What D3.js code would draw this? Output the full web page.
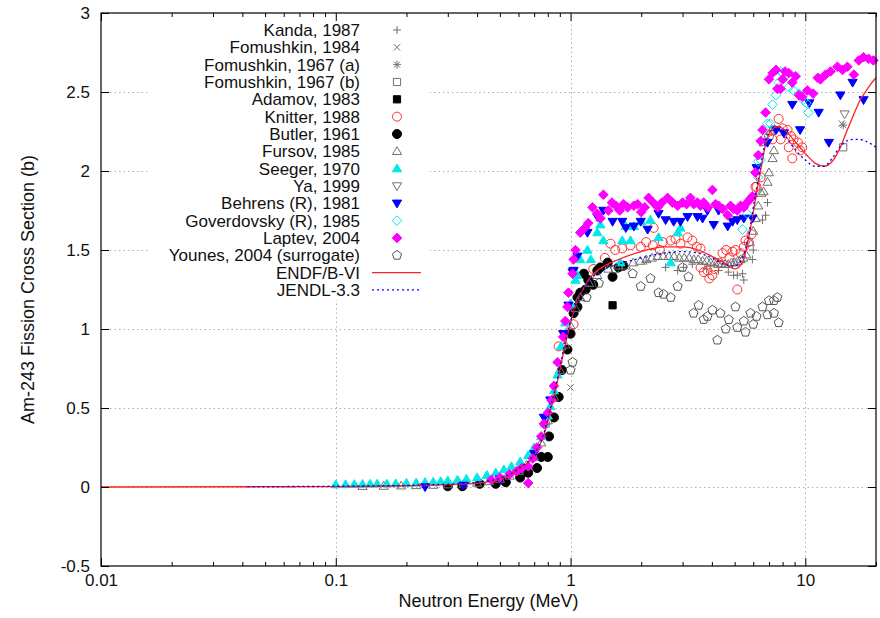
<!DOCTYPE html>
<html>
<head>
<meta charset="utf-8">
<script src="https://cdn.jsdelivr.net/npm/d3@7"></script>
<style>
  body { margin: 0; background: #fff; }
  svg text { font-family: "Liberation Sans", Arial, Helvetica, sans-serif; fill: #111; }
</style>
</head>
<body>
<div id="chart"></div>
<script>
// Am-243 fission cross section data, [energy (MeV), sigma (b)]
var kanda1987 = [[2.1,1.43],[2.54,1.39],[2.86,1.37],[3.03,1.39],[3.3,1.41],[3.8,1.38],[4.27,1.37],[4.7,1.36],
  [4.95,1.34],[5.13,1.34],[5.4,1.35],[5.47,1.31],[5.95,1.44],[6.0,1.5],[6.57,1.69],[6.77,1.72],[6.9,1.80]];
var fomushkin1984 = [[1.0,0.63],[14.3,2.30]];
var fomushkin1967a = [[14.5,2.29]];
var fomushkin1967b = [[14.5,2.15]];
var adamov1983 = [[1.51,1.15]];
var knitter1988 = [[0.62,0.12],[0.78,0.40],[0.88,0.57],[0.89,0.89],[1.03,1.03],[1.25,1.38],[1.4,1.45],[1.48,1.54],
  [1.55,1.50],[1.66,1.51],[1.8,1.53],[1.99,1.52],[2.1,1.55],[2.26,1.64],[2.24,1.53],[2.4,1.50],[2.47,1.55],
  [2.67,1.56],[2.8,1.57],[2.94,1.54],[3.15,1.58],[3.3,1.56],[3.45,1.52],[3.58,1.51],[3.58,1.39],[3.7,1.36],
  [3.83,1.37],[3.9,1.32],[4.02,1.34],[4.1,1.38],[4.3,1.42],[4.44,1.48],[4.6,1.50],[4.75,1.45],[4.9,1.49],
  [5.04,1.50],[5.13,1.25],[5.3,1.48],[5.47,1.52],[5.56,1.56],[5.74,1.55],[5.9,1.60],[6.13,1.90],[6.2,1.90],
  [6.45,1.96],[7.0,2.22],[7.25,2.20],[7.35,2.26],[7.7,2.33],[7.85,2.20],[8.0,2.27],[8.4,2.26],[8.5,2.15],
  [8.7,2.22],[8.8,2.08],[8.9,2.20],[9.3,2.18],[9.5,2.13],[9.7,2.15]];
var butler1961 = [[0.30,0.005],[0.346,0.005],[0.41,0.02],[0.48,0.02],[0.53,0.03],[0.61,0.06],[0.66,0.09],
  [0.72,0.12],[0.75,0.19],[0.8,0.19],[0.81,0.32],[0.85,0.44],[0.89,0.57],[0.92,0.74],[0.97,0.87],[1.0,0.97],
  [1.03,1.10],[1.07,1.14],[1.07,1.20],[1.1,1.23],[1.14,1.35],[1.16,1.25],[1.19,1.31],[1.25,1.28],[1.3,1.37],
  [1.34,1.39],[1.44,1.42],[1.51,1.33],[1.6,1.39],[1.68,1.40]];
var fursov1985 = [[0.13,0.005],[0.16,0.006],[0.19,0.008],[0.22,0.01],[0.26,0.012],[0.3,0.015],[0.35,0.02],
  [0.4,0.025],[0.45,0.035],[0.5,0.05],[0.55,0.07],[0.6,0.1],[0.65,0.14],[0.7,0.19],[0.75,0.28],[0.8,0.42],
  [0.85,0.57],[0.9,0.74],[0.95,0.90],[1.0,1.02],[1.05,1.13],[1.1,1.20],[1.2,1.29],[1.3,1.34],[1.45,1.38],
  [1.6,1.40],[1.72,1.40],[1.85,1.42],[1.98,1.43],[2.1,1.44],[2.22,1.45],[2.35,1.46],[2.48,1.46],[2.62,1.46],
  [2.76,1.46],[2.9,1.45],[3.05,1.45],[3.2,1.45],[3.35,1.44],[3.5,1.44],[3.65,1.43],[3.8,1.43],[3.95,1.42],
  [4.1,1.42],[4.25,1.41],[4.4,1.41],[4.55,1.41],[4.7,1.41],[4.85,1.42],[5.0,1.42],[5.15,1.43],[5.3,1.44],
  [5.45,1.45],[5.6,1.47],[5.8,1.55],[6.0,1.62],[6.15,1.70],[6.3,1.78],[6.5,1.86],[6.64,1.87],[6.9,1.93],
  [7.0,1.99],[7.25,2.08],[7.35,2.13],[6.64,2.18],[7.1,2.25]];
var seeger1970 = [[0.1,0.015],[0.11,0.016],[0.12,0.017],[0.13,0.018],[0.14,0.019],[0.15,0.02],[0.165,0.02],
  [0.18,0.022],[0.2,0.025],[0.22,0.027],[0.24,0.03],[0.26,0.032],[0.28,0.035],[0.3,0.04],[0.33,0.045],
  [0.36,0.05],[0.4,0.06],[0.44,0.075],[0.48,0.09],[0.52,0.11],[0.56,0.13],[0.61,0.16],[0.66,0.20],[0.7,0.25],
  [0.75,0.32],[0.78,0.40],[0.8,0.45],[0.82,0.51],[0.85,0.61],[0.88,0.71],[0.91,0.89],[0.95,1.04],[1.0,1.16],
  [1.05,1.31],[1.07,1.34],[1.1,1.44],[1.18,1.50],[1.22,1.44],[1.3,1.61],[1.34,1.66],[1.38,1.56],[1.63,1.42],
  [1.66,1.56],[1.72,1.65],[1.8,1.56],[1.86,1.65],[2.0,1.68],[2.19,1.69],[2.37,1.58],[2.67,1.42],[2.86,1.61],
  [2.94,1.64]];
var ya1999 = [[14.7,2.36]];
var behrens1981 = [[0.24,0.0],[0.35,0.01],[0.5,0.05],[0.7,0.21],[0.77,0.44],[0.82,0.55],[0.93,0.97],
  [0.98,1.15],[1.02,1.36],[1.03,1.37],[1.07,1.46],[1.18,1.61],[1.3,1.71],[1.38,1.75],[1.51,1.68],[1.66,1.68],
  [1.72,1.64],[1.86,1.65],[1.99,1.68],[2.13,1.63],[2.37,1.73],[2.54,1.69],[2.75,1.68],[2.94,1.68],[3.15,1.71],
  [3.47,1.71],[3.65,1.70],[3.83,1.75],[4.07,1.66],[4.27,1.75],[4.67,1.65],[4.9,1.68],[5.13,1.69],[5.47,1.70],
  [5.95,1.70],[6.2,2.02],[6.9,2.18],[7.5,2.26],[8.1,2.24],[8.8,2.42],[9.5,2.26],[10.4,2.43],[11.4,2.37],
  [12.6,2.18],[14.1,2.48],[15.9,2.56],[17.7,2.45]];
var goverdovsky1985 = [[5.4,1.63],[5.65,1.73],[6.3,1.96],[6.3,2.06],[6.45,2.07],[6.64,2.20],[6.9,2.30],
  [7.1,2.30],[7.25,2.42],[7.5,2.48],[7.7,2.56],[7.85,2.63],[8.0,2.62],[8.1,2.59],[8.5,2.53],[8.9,2.51],
  [9.4,2.49],[9.8,2.45],[10.1,2.43],[10.3,2.37]];
var laptev2004 = [[0.46,0.045],[0.5,0.06],[0.55,0.08],[0.59,0.10],[0.62,0.12],[0.66,0.13],[0.66,0.025],
  [0.69,0.18],[0.72,0.25],[0.75,0.32],[0.77,0.40],[0.8,0.47],[0.83,0.55],[0.85,0.64],[0.88,0.79],[0.93,0.95],
  [0.95,1.05],[0.97,1.14],[0.98,1.23],[1.02,1.35],[1.03,1.44],[1.05,1.50],[1.1,1.61],[1.15,1.64],[1.19,1.67],
  [1.24,1.77],[1.3,1.73],[1.34,1.70],[1.38,1.85],[1.45,1.75],[1.5,1.80],[1.56,1.78],[1.62,1.75],[1.68,1.79],
  [1.75,1.77],[1.86,1.78],[1.93,1.79],[2.0,1.74],[2.07,1.77],[2.15,1.83],[2.25,1.80],[2.35,1.77],[2.45,1.80],
  [2.59,1.83],[2.72,1.80],[2.86,1.78],[3.0,1.80],[3.12,1.79],[3.24,1.83],[3.35,1.79],[3.47,1.80],[3.58,1.78],
  [3.69,1.80],[3.85,1.77],[4.02,1.88],[4.15,1.79],[4.27,1.78],[4.45,1.76],[4.67,1.72],[4.8,1.78],[4.95,1.76],
  [5.13,1.75],[5.3,1.78],[5.47,1.77],[5.65,1.80],[5.8,1.82],[5.95,1.84],[6.13,1.99],[6.3,2.10],[6.45,2.19],
  [6.57,2.26],[6.77,2.37],[7.0,2.58],[7.25,2.62],[7.5,2.64],[7.6,2.52],[7.85,2.52],[8.0,2.58],[8.2,2.63],
  [8.5,2.62],[8.8,2.56],[9.1,2.60],[9.4,2.48],[9.7,2.47],[10.2,2.51],[10.8,2.49],[11.3,2.59],[11.6,2.58],
  [12.2,2.61],[12.8,2.63],[13.7,2.66],[14.4,2.64],[15.1,2.66],[16.1,2.61],[16.9,2.70],[17.7,2.72],
  [18.6,2.71],[19.5,2.70]];
var younes2004 = [[1.0,0.74],[1.02,0.79],[1.17,1.20],[1.32,1.29],[1.55,1.38],[1.84,1.35],[1.99,1.27],
  [2.19,1.32],[2.37,1.23],[2.49,1.22],[2.67,1.20],[2.86,1.27],[3.0,1.39],[3.18,1.33],[3.34,1.10],[3.51,1.15],
  [3.69,1.06],[3.83,1.08],[4.02,1.12],[4.22,0.93],[4.35,1.10],[4.58,1.00],[4.72,1.06],[5.04,1.14],[5.13,1.01],
  [5.47,1.05],[5.56,0.98],[5.84,1.10],[6.0,1.03],[6.2,1.08],[6.57,1.14],[6.9,1.09],[7.0,1.18],[7.35,1.18],
  [7.35,1.10],[7.6,1.20],[7.7,1.04]];

// evaluated curves
var endfb6 = [[0.01,0],[0.1,0.003],[0.2,0.008],[0.3,0.015],[0.4,0.025],[0.5,0.05],[0.6,0.11],[0.7,0.20],
  [0.77,0.33],[0.82,0.48],[0.88,0.67],[0.93,0.84],[1.0,1.04],[1.07,1.18],[1.15,1.27],[1.22,1.33],[1.4,1.40],
  [1.6,1.44],[2.0,1.49],[2.5,1.52],[3.0,1.52],[3.5,1.50],[4.0,1.46],[4.5,1.42],[5.0,1.38],[5.4,1.42],
  [5.74,1.58],[6.13,1.82],[6.5,2.03],[6.8,2.18],[7.2,2.26],[7.6,2.28],[8.0,2.27],[9.0,2.19],[10,2.11],
  [11,2.05],[12,2.03],[13,2.06],[14,2.14],[15,2.25],[16,2.35],[17,2.44],[18,2.50],[19,2.55],[20,2.59]];
var jendl33 = [[0.042,0.002],[0.1,0.005],[0.2,0.01],[0.3,0.018],[0.4,0.03],[0.5,0.055],[0.6,0.115],
  [0.7,0.21],[0.77,0.34],[0.82,0.50],[0.88,0.69],[0.93,0.86],[1.0,1.05],[1.07,1.18],[1.15,1.27],[1.22,1.32],
  [1.4,1.38],[1.6,1.41],[2.0,1.45],[2.5,1.48],[3.0,1.49],[3.5,1.48],[4.0,1.45],[4.5,1.41],[5.0,1.40],
  [5.4,1.45],[5.74,1.60],[6.13,1.85],[6.5,2.06],[6.8,2.20],[7.2,2.26],[7.6,2.27],[8.0,2.24],[9.0,2.14],
  [10,2.07],[11,2.03],[12,2.03],[13,2.08],[14,2.15],[15,2.19],[16,2.20],[17,2.20],[18,2.19],[20,2.15]];

var xTicks = [0.01, 0.1, 1, 10];
var yTicks = [-0.5, 0, 0.5, 1, 1.5, 2, 2.5, 3];

var width = 880, height = 618;
var margin = {top: 13, right: 4, bottom: 52, left: 101};

var svg = d3.select("#chart").append("svg")
    .attr("width", width)
    .attr("height", height);

var x = d3.scaleLog().domain([0.01, 20]).range([margin.left, width - margin.right]);
var y = d3.scaleLinear().domain([-0.5, 3]).range([height - margin.bottom, margin.top]);

var gray = "#707070";

// point styles, in gnuplot key order
var series = [
  {name: "Kanda, 1987", data: kanda1987, shape: "plus", color: gray, filled: false},
  {name: "Fomushkin, 1984", data: fomushkin1984, shape: "cross", color: gray, filled: false},
  {name: "Fomushkin, 1967 (a)", data: fomushkin1967a, shape: "star", color: gray, filled: false},
  {name: "Fomushkin, 1967 (b)", data: fomushkin1967b, shape: "square", color: gray, filled: false},
  {name: "Adamov, 1983", data: adamov1983, shape: "square", color: "#000", filled: true},
  {name: "Knitter, 1988", data: knitter1988, shape: "circle", color: "#ff3030", filled: false},
  {name: "Butler, 1961", data: butler1961, shape: "circle", color: "#000", filled: true},
  {name: "Fursov, 1985", data: fursov1985, shape: "triup", color: gray, filled: false},
  {name: "Seeger, 1970", data: seeger1970, shape: "triup", color: "#00e8e8", filled: true},
  {name: "Ya, 1999", data: ya1999, shape: "tridown", color: gray, filled: false},
  {name: "Behrens (R), 1981", data: behrens1981, shape: "tridown", color: "#0000ff", filled: true},
  {name: "Goverdovsky (R), 1985", data: goverdovsky1985, shape: "diamond", color: "#00e8e8", filled: false},
  {name: "Laptev, 2004", data: laptev2004, shape: "diamond", color: "#ff00ff", filled: true},
  {name: "Younes, 2004 (surrogate)", data: younes2004, shape: "pentagon", color: "#555", filled: false}
];
var curves = [
  {name: "ENDF/B-VI", data: endfb6, color: "#ff2020", dash: null, w: 1.3},
  {name: "JENDL-3.3", data: jendl33, color: "#0000ff", dash: "2,3", w: 1.3}
];

function markerPath(shape) {
  var s = 4.5;
  if (shape == "plus") return "M-4,0H4M0,-4V4";
  if (shape == "cross") return "M-3.2,-3.2L3.2,3.2M-3.2,3.2L3.2,-3.2";
  if (shape == "star") return "M-4,0H4M0,-4V4M-3,-3L3,3M-3,3L3,-3";
  if (shape == "square") return "M-3.6,-3.6H3.6V3.6H-3.6Z";
  if (shape == "circle") return d3.symbol().type(d3.symbolCircle).size(Math.PI * s * s)();
  if (shape == "triup") return "M0,-4.6L4.6,3.2L-4.6,3.2Z";
  if (shape == "tridown") return "M0,4.6L4.6,-3.2L-4.6,-3.2Z";
  if (shape == "diamond") return "M0,-4.8L4.8,0L0,4.8L-4.8,0Z";
  if (shape == "pentagon") {
    var pts = d3.range(5).map(function(i) {
      var a = -Math.PI / 2 + i * 2 * Math.PI / 5;
      return [4.8 * Math.cos(a), 4.8 * Math.sin(a)];
    });
    return "M" + pts.join("L") + "Z";
  }
}

// grid
var grid = svg.append("g").attr("stroke", "#b0b0b0").attr("stroke-width", 1).attr("stroke-dasharray", "1.5,3");
grid.selectAll("line.gx").data([0.1, 1, 10]).enter().append("line")
    .attr("x1", d => Math.round(x(d)) + 0.5).attr("x2", d => Math.round(x(d)) + 0.5)
    .attr("y1", y(-0.5)).attr("y2", y(3));
grid.selectAll("line.gy").data([0, 0.5, 1, 1.5, 2, 2.5]).enter().append("line")
    .attr("x1", x(0.01)).attr("x2", x(20))
    .attr("y1", d => Math.round(y(d)) + 0.5).attr("y2", d => Math.round(y(d)) + 0.5);

// opaque key box
svg.append("rect").attr("x", 150).attr("y", 20).attr("width", 280).attr("height", 280).attr("fill", "#fff");

// points
series.forEach(function(s) {
  svg.append("g").selectAll("path").data(s.data).enter().append("path")
      .attr("d", markerPath(s.shape))
      .attr("transform", d => "translate(" + x(d[0]) + "," + y(d[1]) + ")")
      .attr("fill", s.filled ? s.color : "none")
      .attr("stroke", s.color)
      .attr("stroke-width", 1);
});

// curves
var line = d3.line().x(d => x(d[0])).y(d => y(d[1])).curve(d3.curveMonotoneX);
curves.forEach(function(c) {
  svg.append("path").datum(c.data)
      .attr("d", line)
      .attr("fill", "none")
      .attr("stroke", c.color)
      .attr("stroke-width", c.w)
      .attr("stroke-dasharray", c.dash);
});

// axes, ticks point inward like gnuplot
var xMinor = [];
[0.01, 0.1, 1, 10].forEach(function(dec) {
  for (var k = 2; k <= 9; k++) if (dec * k <= 20) xMinor.push(dec * k);
});

function styleAxis(g) {
  g.select(".domain").remove();
  g.selectAll("line").attr("stroke", "#000");
  g.attr("font-size", 17).attr("font-family", null);
  g.selectAll("text").attr("fill", "#111");
}

svg.append("g").attr("transform", "translate(0," + y(-0.5) + ")")
    .call(d3.axisBottom(x).tickValues(xTicks).tickFormat(d => String(d)).tickSize(-8).tickPadding(8))
    .call(styleAxis);
svg.append("g").attr("transform", "translate(0," + y(-0.5) + ")")
    .call(d3.axisBottom(x).tickValues(xMinor).tickFormat("").tickSize(-4))
    .call(styleAxis);
svg.append("g").attr("transform", "translate(0," + y(3) + ")")
    .call(d3.axisTop(x).tickValues(xTicks).tickFormat("").tickSize(-8))
    .call(styleAxis);
svg.append("g").attr("transform", "translate(0," + y(3) + ")")
    .call(d3.axisTop(x).tickValues(xMinor).tickFormat("").tickSize(-4))
    .call(styleAxis);
svg.append("g").attr("transform", "translate(" + x(0.01) + ",0)")
    .call(d3.axisLeft(y).tickValues(yTicks).tickFormat(d => String(d)).tickSize(-8).tickPadding(11))
    .call(styleAxis);
svg.append("g").attr("transform", "translate(" + x(20) + ",0)")
    .call(d3.axisRight(y).tickValues(yTicks).tickFormat("").tickSize(-8))
    .call(styleAxis);

// frame
svg.append("rect")
    .attr("x", x(0.01)).attr("y", y(3))
    .attr("width", x(20) - x(0.01)).attr("height", y(-0.5) - y(3))
    .attr("fill", "none").attr("stroke", "#000").attr("stroke-width", 1.2);

// axis titles
svg.append("text")
    .attr("x", (x(0.01) + x(20)) / 2).attr("y", 607)
    .attr("text-anchor", "middle").attr("font-size", 18)
    .text("Neutron Energy (MeV)");
svg.append("text")
    .attr("transform", "translate(34," + (y(3) + y(-0.5)) / 2 + ") rotate(-90)")
    .attr("text-anchor", "middle").attr("font-size", 18)
    .text("Am-243 Fission Cross Section (b)");

// key
var rowY = i => 30 + i * 17.33;
var key = svg.append("g").attr("font-size", 17);
series.forEach(function(s, i) {
  key.append("text").attr("x", 360).attr("y", rowY(i)).attr("dy", "0.36em")
      .attr("text-anchor", "end").text(s.name);
  key.append("path").attr("d", markerPath(s.shape))
      .attr("transform", "translate(397," + rowY(i) + ")")
      .attr("fill", s.filled ? s.color : "none")
      .attr("stroke", s.color).attr("stroke-width", 1);
});
curves.forEach(function(c, j) {
  var i = series.length + j;
  key.append("text").attr("x", 360).attr("y", rowY(i)).attr("dy", "0.36em")
      .attr("text-anchor", "end").text(c.name);
  key.append("line").attr("x1", 372).attr("x2", 421).attr("y1", rowY(i)).attr("y2", rowY(i))
      .attr("stroke", c.color).attr("stroke-width", c.w).attr("stroke-dasharray", c.dash);
});
</script>
</body>
</html>
